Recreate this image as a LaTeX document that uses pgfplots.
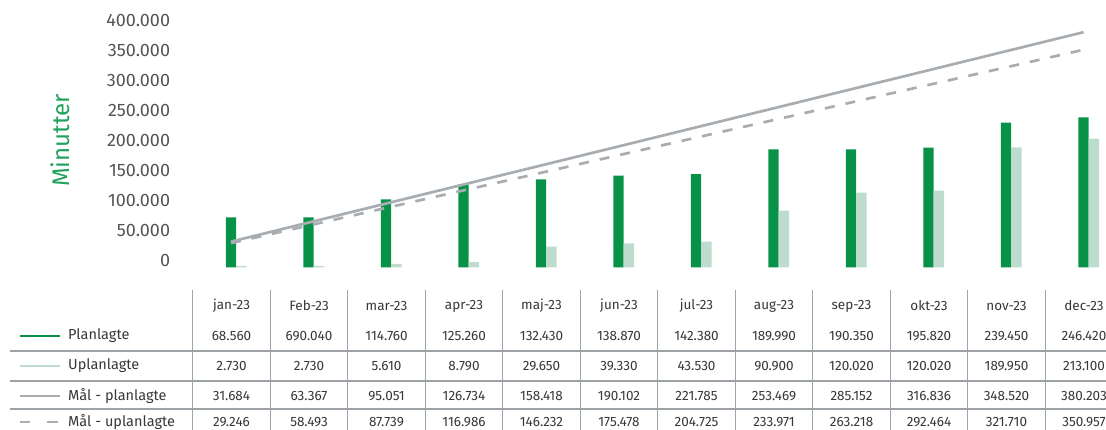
\documentclass[border=0pt]{standalone}
\usepackage{pgfplots}
\pgfplotsset{compat=1.18}
\usepackage{fontspec}
\setmainfont{Fira Sans}
\definecolor{pgreen}{RGB}{8,146,72}
\definecolor{lgreen}{RGB}{190,220,206}
\definecolor{lgray}{RGB}{168,173,178}
\definecolor{ticktext}{RGB}{85,85,85}
\definecolor{tabtext}{RGB}{55,55,55}
\definecolor{gridc}{RGB}{158,163,168}
\definecolor{labgreen}{RGB}{32,162,92}
\newcommand\tabfont{\fontsize{13.5}{15}\selectfont}
\newcommand\legfont{\fontsize{14.5}{16}\selectfont}
\begin{document}
\begin{tikzpicture}[x=1pt,y=1pt]
\path[use as bounding box] (0,0) rectangle (1106,430);
% bars (own axis, baseline slightly lower as in the reference)
\begin{axis}[at={(192.25pt,162.7pt)}, anchor=south west, scale only axis,
  width=930pt, height=240.4pt, xmin=-0.5, xmax=11.5, ymin=0, ymax=400000,
  axis lines=none, ybar, bar width=10.4pt, clip=false]
\addplot[fill=pgreen, draw=none, bar shift=0pt] coordinates {
(0,83200) (1,83200) (2,113100) (3,138100) (4,146400) (5,152400)
(6,155200) (7,196300) (8,196300) (9,199000) (10,240600) (11,249600)};
\addplot[fill=lgreen, draw=none, bar shift=10.4pt] coordinates {
(0,2200) (1,2200) (2,5500) (3,8800) (4,34300) (5,39900)
(6,42600) (7,94200) (8,124100) (9,127500) (10,199700) (11,214000)};
\end{axis}
% target lines + y ticks
\begin{axis}[at={(192.25pt,169.3pt)}, anchor=south west, scale only axis,
  width=930pt, height=240.4pt, xmin=-0.5, xmax=11.5, ymin=0, ymax=400000,
  axis line style={draw=none}, xtick=\empty, major tick length=0pt,
  ytick={0,50000,...,400000}, scaled y ticks=false, clip=false,
  yticklabel style={/pgf/number format/.cd, fixed, 1000 sep={.}, assume math mode=true,
    /tikz/.cd, font=\fontsize{18}{20}\selectfont, text=ticktext, inner sep=0pt, anchor=east, xshift=-22pt}]
\addplot[lgray, line width=2.7pt, sharp plot, mark=none] coordinates {
(0,31684) (1,63367) (2,95051) (3,126734) (4,158418) (5,190102)
(6,221785) (7,253469) (8,285152) (9,316836) (10,348520) (11,380203)};
\addplot[lgray, line width=2.7pt, sharp plot, mark=none, dash pattern=on 10pt off 11pt] coordinates {
(0,29246) (1,58493) (2,87739) (3,116986) (4,146232) (5,175478)
(6,204725) (7,233971) (8,263218) (9,292464) (10,321710) (11,350957)};
\end{axis}
% y label
\node[rotate=90, font=\fontsize{24}{26}\selectfont, text=labgreen] at (60,289.5) {Minutter};
% data table grid
\foreach \k in {0,...,11} \draw[gridc, line width=1.3pt] (192.7+77.5*\k,140) -- (192.7+77.5*\k,0);
\foreach \yy in {79,49,21} \draw[gridc, line width=1.3pt] (10,\yy) -- (1106,\yy);
% header
\foreach \lab [count=\i from 0] in {jan-23,Feb-23,mar-23,apr-23,maj-23,jun-23,jul-23,aug-23,sep-23,okt-23,nov-23,dec-23}
  \node[font=\tabfont, text=tabtext] at (231.5+77.5*\i,124) {\lab};
\foreach \lab [count=\i from 0] in {68.560,690.040,114.760,125.260,132.430,138.870,142.380,189.990,190.350,195.820,239.450,246.420}
  \node[font=\tabfont, text=tabtext] at (231.5+77.5*\i,94) {\lab};
\foreach \lab [count=\i from 0] in {2.730,2.730,5.610,8.790,29.650,39.330,43.530,90.900,120.020,120.020,189.950,213.100}
  \node[font=\tabfont, text=tabtext] at (231.5+77.5*\i,64) {\lab};
\foreach \lab [count=\i from 0] in {31.684,63.367,95.051,126.734,158.418,190.102,221.785,253.469,285.152,316.836,348.520,380.203}
  \node[font=\tabfont, text=tabtext] at (231.5+77.5*\i,34) {\lab};
\foreach \lab [count=\i from 0] in {29.246,58.493,87.739,116.986,146.232,175.478,204.725,233.971,263.218,292.464,321.710,350.957}
  \node[font=\tabfont, text=tabtext] at (231.5+77.5*\i,8) {\lab};
% legend keys and names
\draw[pgreen, line width=2.7pt] (20,94) -- (60,94);
\draw[lgreen, line width=2.7pt] (20,64) -- (60,64);
\draw[lgray, line width=2.7pt] (20,34) -- (60,34);
\draw[lgray, line width=2.7pt] (20,8) -- (30,8);
\draw[lgray, line width=2.7pt] (47,8) -- (58,8);
\node[font=\legfont, text=tabtext, anchor=west, inner sep=0pt] at (68,94) {Planlagte};
\node[font=\legfont, text=tabtext, anchor=west, inner sep=0pt] at (68,64) {Uplanlagte};
\node[font=\legfont, text=tabtext, anchor=west, inner sep=0pt] at (68,34) {Mål - planlagte};
\node[font=\legfont, text=tabtext, anchor=west, inner sep=0pt] at (68,8) {Mål - uplanlagte};
\end{tikzpicture}
\end{document}
